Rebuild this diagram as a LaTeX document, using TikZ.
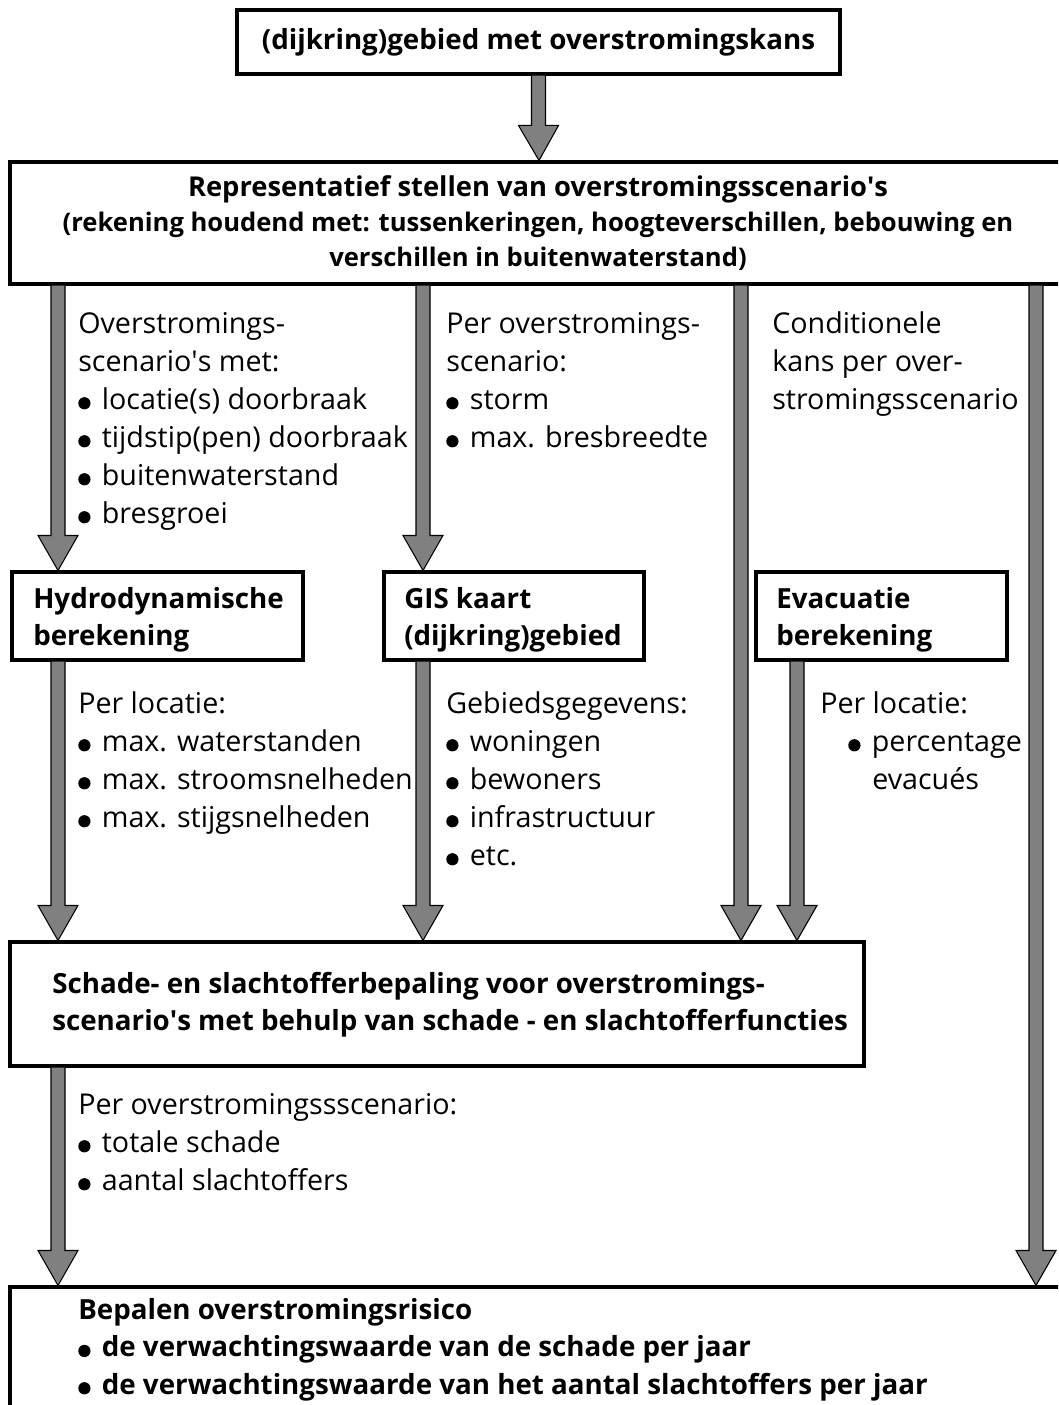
\documentclass[tikz,border=0pt]{standalone}
\usepackage{fontspec}
\usepackage{graphicx}
\setmainfont{Open Sans}
\usetikzlibrary{calc}
\newcommand\blt{\tikz[baseline=0pt]\fill[black] (4.6pt,4.3pt) circle (4.6pt);\hspace{8.5pt}}
\newcommand\q{\textquotesingle}
\newcommand\fatarrow[2]{%
  \filldraw[fatarrowstyle] let \p1=(#1), \p2=(#2) in
    (\x1-5.25pt,\y1) -- (\x1-5.25pt,\y2+26.25pt) -- (\x1-15pt,\y2+26.25pt) --
    (\x2,\y2) -- (\x1+15pt,\y2+26.25pt) -- (\x1+5.25pt,\y2+26.25pt) -- (\x1+5.25pt,\y1);}
\newcommand\boxfont{\bfseries\fontsize{20.8}{27.75}\selectfont}
\newcommand\lblfont{\fontsize{21.5}{28.5}\selectfont}
\tikzset{
  fatarrowstyle/.style={fill=black!50, draw=black, line width=0.8pt, line join=miter},
  box/.style={draw=black, line width=2.3pt, inner sep=0pt},
  boxtext/.style={anchor=base west, align=left, inner sep=0pt, font=\boxfont},
  lbl/.style={anchor=base west, align=left, inner sep=0pt, font=\lblfont},
}
\begin{document}
\begin{tikzpicture}[x=0.75pt,y=-0.75pt]
\clip (0,0) rectangle (1058,1405);
\useasboundingbox (0,0) rectangle (1058,1405);
% boxes
\node[box, minimum width=603*0.75pt, minimum height=64*0.75pt] (top) at (538.5,42) {};
\node[box, minimum width=1058*0.75pt, minimum height=122*0.75pt] (rep) at (539,223) {};
\node[box, minimum width=291*0.75pt, minimum height=88*0.75pt] (hydro) at (157.5,616) {};
\node[box, minimum width=260*0.75pt, minimum height=88*0.75pt] (gis) at (514,616) {};
\node[box, minimum width=251*0.75pt, minimum height=88*0.75pt] (evac) at (881.5,616) {};
\node[box, minimum width=854*0.75pt, minimum height=124*0.75pt] (schade) at (437,1004) {};
\node[box, minimum width=1062*0.75pt, minimum height=140*0.75pt] (risk) at (541,1357) {};
% box texts (anchored at the baseline of their last line)
\node[anchor=base, inner sep=0pt, font=\boxfont] (toptxt) at (538.5,50) {(dijkring)gebied met overstromingskans};
\node[anchor=base, align=center, inner sep=0pt, font=\bfseries\fontsize{19.2}{26.25}\selectfont] (reptxt) at (538,267)
  {{\fontsize{20.5}{26.25}\selectfont Representatief stellen van overstromingsscenario\q s}\\(rekening houdend met: tussenkeringen, hoogteverschillen, bebouwing en\\verschillen in buitenwaterstand)};
\node[boxtext] (hydrotxt) at (33,645) {Hydrodynamische\\berekening};
\node[boxtext] (gistxt) at (404,645) {GIS kaart\\(dijkring)gebied};
\node[boxtext] (evactxt) at (776,645) {Evacuatie\\berekening};
\node[boxtext] (schadetxt) at (52,1030)
  {Schade- en slachtofferbepaling voor overstromings-\\scenario\q s met behulp van schade - en slachtofferfuncties};
\node[boxtext, font=\bfseries\fontsize{20.8}{28}\selectfont] (risktxt) at (78,1394)
  {Bepalen overstromingsrisico\\\blt de verwachtingswaarde van de schade per jaar\\\blt de verwachtingswaarde van het aantal slachtoffers per jaar};
% column coordinates
\coordinate (c1) at (58,0);
\coordinate (c2) at (423,0);
\coordinate (c3) at (741,0);
\coordinate (c4) at (1036,0);
\coordinate (c5) at (797,0);
% arrows
\fatarrow{top.south}{rep.north}
\fatarrow{rep.south -| c1}{hydro.north -| c1}
\fatarrow{rep.south -| c2}{gis.north -| c2}
\fatarrow{rep.south -| c3}{schade.north -| c3}
\fatarrow{rep.south -| c4}{risk.north -| c4}
\fatarrow{hydro.south -| c1}{schade.north -| c1}
\fatarrow{gis.south -| c2}{schade.north -| c2}
\fatarrow{evac.south -| c5}{schade.north -| c5}
\fatarrow{schade.south -| c1}{risk.north -| c1}
% labels (anchored at the baseline of their last line)
\node[lbl] (l1) at (78,523) {Overstromings-\\scenario\q s met:\\\blt locatie(s) doorbraak\\\blt tijdstip(pen) doorbraak\\\blt buitenwaterstand\\\blt bresgroei};
\node[lbl] (l2) at (446,447) {Per overstromings-\\scenario:\\\blt storm\\\blt max. bresbreedte};
\node[lbl] (l3) at (772,409) {Conditionele\\kans per over-\\stromingsscenario};
\node[lbl] (l4) at (78,827) {Per locatie:\\\blt max. waterstanden\\\blt max. stroomsnelheden\\\blt max. stijgsnelheden};
\node[lbl] (l5) at (446,865) {Gebiedsgegevens:\\\blt woningen\\\blt bewoners\\\blt infrastructuur\\\blt etc.};
\node[lbl] (l6) at (820,789) {Per locatie:\\\hspace{21pt}\blt percentage\\\hspace{39pt}evacués};
\node[lbl] (l7) at (78,1190) {Per overstromingssscenario:\\\blt totale schade\\\blt aantal slachtoffers};
\end{tikzpicture}
\end{document}
